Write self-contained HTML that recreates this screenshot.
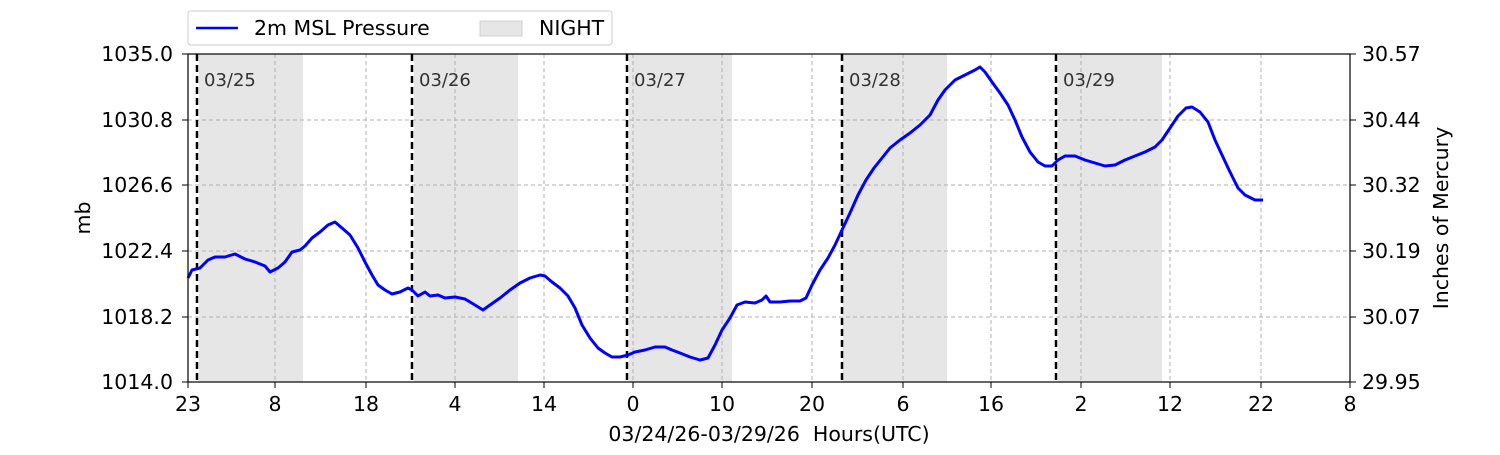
<!DOCTYPE html>
<html><head><meta charset="utf-8"><style>
body{margin:0;background:#fff;}
svg text{font-family:"DejaVu Sans","Liberation Sans",sans-serif;}
</style></head><body>
<svg width="1500" height="450" xmlns="http://www.w3.org/2000/svg">
<rect width="1500" height="450" fill="#fff"/>
<g fill="#e6e6e6">
<rect x="199" y="54" width="104" height="328"/>
<rect x="414" y="54" width="104" height="328"/>
<rect x="629" y="54" width="103" height="328"/>
<rect x="843" y="54" width="104" height="328"/>
<rect x="1058" y="54" width="104" height="328"/>
</g>
<g stroke="#b0b0b0" stroke-width="1" stroke-dasharray="4,3">
<line x1="275" y1="54" x2="275" y2="382"/><line x1="366" y1="54" x2="366" y2="382"/>
<line x1="455" y1="54" x2="455" y2="382"/><line x1="544" y1="54" x2="544" y2="382"/>
<line x1="633" y1="54" x2="633" y2="382"/><line x1="722" y1="54" x2="722" y2="382"/>
<line x1="812" y1="54" x2="812" y2="382"/><line x1="903" y1="54" x2="903" y2="382"/>
<line x1="991" y1="54" x2="991" y2="382"/><line x1="1081" y1="54" x2="1081" y2="382"/>
<line x1="1170" y1="54" x2="1170" y2="382"/><line x1="1261" y1="54" x2="1261" y2="382"/>
<line x1="188" y1="120" x2="1350" y2="120"/><line x1="188" y1="185" x2="1350" y2="185"/>
<line x1="188" y1="251" x2="1350" y2="251"/><line x1="188" y1="317" x2="1350" y2="317"/>
</g>
<g stroke="#000" stroke-width="2.5" stroke-dasharray="7,4">
<line x1="197" y1="54" x2="197" y2="382"/><line x1="412" y1="54" x2="412" y2="382"/>
<line x1="627" y1="54" x2="627" y2="382"/><line x1="842" y1="54" x2="842" y2="382"/>
<line x1="1056" y1="54" x2="1056" y2="382"/>
</g>
<g font-size="18" fill="#333">
<text x="204" y="86">03/25</text><text x="419" y="86">03/26</text><text x="634" y="86">03/27</text>
<text x="849" y="86">03/28</text><text x="1063" y="86">03/29</text>
</g>
<polyline fill="none" stroke="#0000ff" stroke-width="3" stroke-linejoin="round" points="188,278 192,270 200,268 208,260 215,257 225,257 235,254 245,259 255,262 265,266 270,272 278,268 285,262 292,252 300,250 305,246 312,238 320,232 328,225 335,222 342,228 350,235 358,248 365,262 372,275 378,285 385,290 392,294 400,292 408,288 412,290 418,296 425,292 430,296 438,295 445,298 455,297 465,299 475,305 483,310 490,305 500,298 510,290 520,283 530,278 540,275 545,276 552,282 560,288 568,296 575,308 582,325 590,338 598,348 605,353 612,357 620,357 628,355 635,352 645,350 655,347 665,347 672,350 680,353 690,357 700,360 708,358 715,345 722,330 730,318 737,305 745,302 755,303 762,300 766,296 770,302 780,302 790,301 800,301 806,298 812,285 820,270 828,258 835,245 842,230 850,213 858,195 866,180 874,168 882,158 890,148 900,140 910,133 920,125 930,115 938,100 945,90 955,80 965,75 975,70 980,67 985,72 992,82 1000,93 1008,105 1015,120 1022,137 1030,152 1038,162 1045,166 1052,166 1058,160 1065,156 1075,156 1085,160 1095,163 1105,166 1115,165 1125,160 1135,156 1145,152 1155,147 1162,140 1170,128 1178,116 1186,108 1192,107 1200,112 1208,122 1215,140 1222,155 1230,172 1238,188 1245,195 1255,200 1263,200"/>
<rect x="188" y="54" width="1162" height="328" fill="none" stroke="#000" stroke-width="1.2"/>
<g stroke="#000" stroke-width="1">
<line x1="188" y1="382" x2="188" y2="388"/><line x1="275" y1="382" x2="275" y2="388"/><line x1="366" y1="382" x2="366" y2="388"/>
<line x1="455" y1="382" x2="455" y2="388"/><line x1="544" y1="382" x2="544" y2="388"/><line x1="633" y1="382" x2="633" y2="388"/>
<line x1="722" y1="382" x2="722" y2="388"/><line x1="812" y1="382" x2="812" y2="388"/><line x1="903" y1="382" x2="903" y2="388"/>
<line x1="991" y1="382" x2="991" y2="388"/><line x1="1081" y1="382" x2="1081" y2="388"/><line x1="1170" y1="382" x2="1170" y2="388"/>
<line x1="1261" y1="382" x2="1261" y2="388"/><line x1="1350" y1="382" x2="1350" y2="388"/>
<line x1="182" y1="54" x2="188" y2="54"/><line x1="182" y1="120" x2="188" y2="120"/><line x1="182" y1="185" x2="188" y2="185"/>
<line x1="182" y1="251" x2="188" y2="251"/><line x1="182" y1="317" x2="188" y2="317"/><line x1="182" y1="382" x2="188" y2="382"/>
<line x1="1350" y1="54" x2="1356" y2="54"/><line x1="1350" y1="120" x2="1356" y2="120"/><line x1="1350" y1="185" x2="1356" y2="185"/>
<line x1="1350" y1="251" x2="1356" y2="251"/><line x1="1350" y1="317" x2="1356" y2="317"/><line x1="1350" y1="382" x2="1356" y2="382"/>
</g>
<g font-size="20.5" fill="#000" text-anchor="middle">
<text x="188" y="411">23</text><text x="275" y="411">8</text><text x="366" y="411">18</text><text x="455" y="411">4</text>
<text x="544" y="411">14</text><text x="633" y="411">0</text><text x="722" y="411">10</text><text x="812" y="411">20</text>
<text x="903" y="411">6</text><text x="991" y="411">16</text><text x="1081" y="411">2</text><text x="1170" y="411">12</text>
<text x="1261" y="411">22</text><text x="1350" y="411">8</text>
<text x="769" y="441" xml:space="preserve" style="white-space:pre">03/24/26-03/29/26  Hours(UTC)</text>
</g>
<g font-size="20.5" fill="#000" text-anchor="end">
<text x="173" y="61">1035.0</text><text x="173" y="127">1030.8</text><text x="173" y="192">1026.6</text>
<text x="173" y="258">1022.4</text><text x="173" y="324">1018.2</text><text x="173" y="389">1014.0</text>
</g>
<g font-size="20.5" fill="#000">
<text x="1362" y="61">30.57</text><text x="1362" y="127">30.44</text><text x="1362" y="192">30.32</text>
<text x="1362" y="258">30.19</text><text x="1362" y="324">30.07</text><text x="1362" y="389">29.95</text>
</g>
<text transform="translate(90,218) rotate(-90)" font-size="20.5" text-anchor="middle">mb</text>
<text transform="translate(1448,218) rotate(-90)" font-size="20.5" text-anchor="middle">Inches of Mercury</text>
<rect x="188" y="11" width="424" height="34" rx="3" fill="#fff" stroke="#ccc"/>
<line x1="196" y1="28" x2="238" y2="28" stroke="#0000ff" stroke-width="2.5"/>
<text x="254" y="35" font-size="20.5">2m MSL Pressure</text>
<rect x="480" y="21" width="42" height="15" fill="#e6e6e6" stroke="#d0d0d0"/>
<text x="539" y="35" font-size="20.5">NIGHT</text>
</svg>
</body></html>
